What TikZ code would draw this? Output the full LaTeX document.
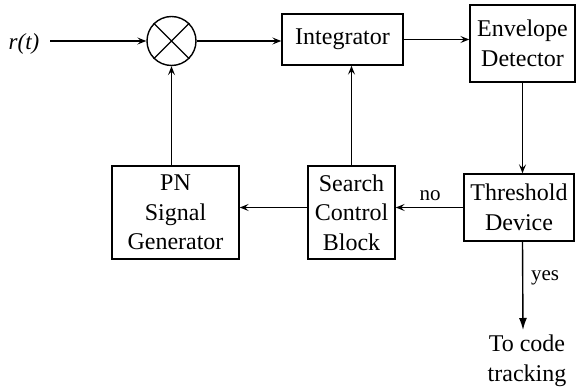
\documentclass[tikz,border=0pt]{standalone}
\usepackage{fontspec}
\setmainfont{Liberation Serif}
\usetikzlibrary{arrows.meta}
\begin{document}
\begin{tikzpicture}[x=1pt,y=-1pt,
  every node/.style={font=\fontsize{24}{29.5}\selectfont},
  blk/.style={draw,line width=1.4pt,align=center,inner sep=0pt},
  sig/.style={line width=1.4pt,-{Stealth[length=9pt,width=7pt,inset=3.5pt]}},
  exitarrow/.style={line width=1.4pt,-{Latex[length=12pt,width=8pt]}},
  lbl/.style={font=\fontsize{21}{26}\selectfont}]
\useasboundingbox (0,0) rectangle (576,387);

% blocks
\node[draw,circle,line width=1.4pt,minimum size=49pt,inner sep=0pt] (mul) at (171.5,41) {};
\draw[line width=1.4pt] (mul.north east) -- (mul.south west) (mul.north west) -- (mul.south east);
\node[blk,minimum width=121pt,minimum height=51pt] (integ) at (342.5,39.5) {Integrator};
\node[blk,minimum width=105pt,minimum height=77pt] (env) at (522.5,43.5) {Envelope\\Detector};
\node[blk,minimum width=110pt,minimum height=67pt] (thr) at (519,207.5) {Threshold\\Device};
\node[blk,minimum width=87pt,minimum height=93pt] (search) at (351.5,212.5) {Search\\Control\\Block};
\node[blk,minimum width=127pt,minimum height=93pt] (pn) at (175.5,212.5) {PN\\Signal\\Generator};

% input and output
\node[font=\fontsize{23}{26}\selectfont\itshape] (rt) at (24,44) {r(t)};
\coordinate (rin) at (50,41);
\coordinate (yesend) at (523,330);
\node[align=center] (track) at (527,361) {To code\\tracking};
\node[lbl] (yes) at (545,278) {yes};
\node[lbl] (no) at (430,196) {no};

% connectors
\draw[sig] (rin) -- (mul.west);
\draw[sig] (mul.east) -- (integ.west |- mul.east);
\draw[sig] (integ.east) -- (env.west |- integ.east);
\draw[sig] (env.south) -- (env.south |- thr.north);
\draw[exitarrow] (env.south |- thr.south) -- (yesend);
\draw[sig] (thr.west) -- (search.east |- thr.west);
\draw[sig] (search.west |- thr.west) -- (pn.east |- thr.west);
\draw[sig] (search.north) -- (search.north |- integ.south);
\draw[sig] (pn.north -| mul.south) -- (mul.south);
\end{tikzpicture}
\end{document}
